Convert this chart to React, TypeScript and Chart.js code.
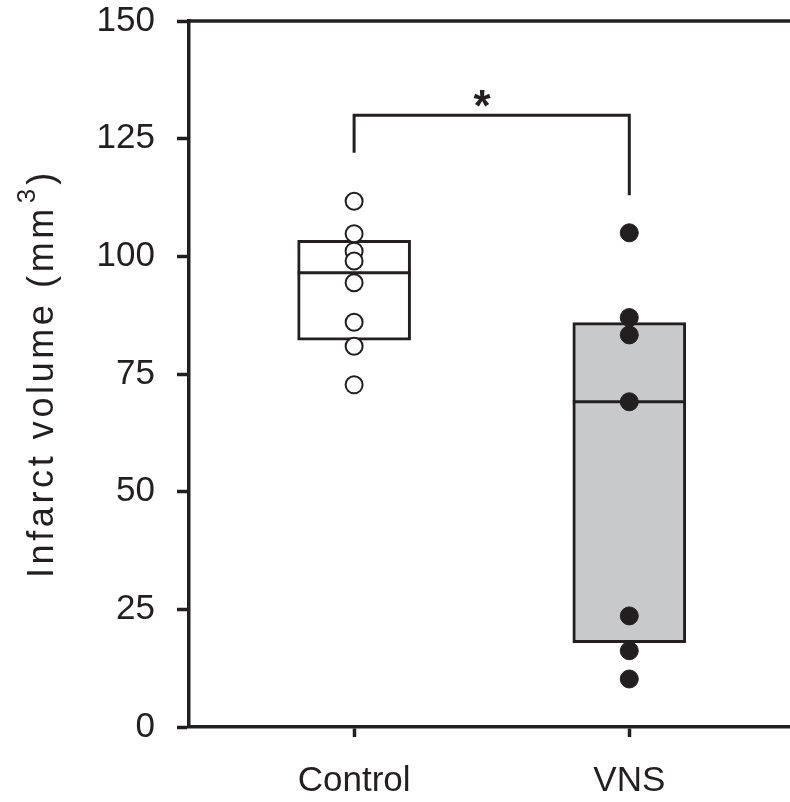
import React, { useEffect, useRef } from "react";
import { Chart, registerables } from "chart.js";

Chart.register(...registerables);

// ---- data ----
const CATEGORIES = ["Control", "VNS"];
const CATEGORY_POS = [1, 2];
const CONTROL_POINTS = [111.7, 104.8, 101.1, 99.0, 94.4, 86.0, 80.9, 72.7];
const VNS_POINTS = [105.0, 87.0, 83.3, 69.1, 23.6, 16.2, 10.2];
// box: [lower quartile, median, upper quartile]
const CONTROL_BOX = [82.2, 96.5, 103.4];
const VNS_BOX = [17.9, 69.1, 85.9];
const Y_TICKS = [0, 25, 50, 75, 100, 125, 150];
// significance bracket: left foot, top, right foot
const BRACKET = [122, 130, 113];
const STAR_POS = [1.465, 134];

const INK = "#231f20";
const GRAY = "#c8c9cb";
const FONT = '"Liberation Sans", Arial, Helvetica, sans-serif';
const BOX_HALF = 0.205;

const titlePlugin = {
  id: "customText",
  afterDraw(chart: any) {
    const ctx = chart.ctx as CanvasRenderingContext2D;
    const xs = chart.scales.x;
    const ys = chart.scales.y;
    ctx.save();
    // top border
    ctx.strokeStyle = INK;
    ctx.lineWidth = 3.5;
    ctx.beginPath();
    ctx.moveTo(chart.chartArea.left, chart.chartArea.top);
    ctx.lineTo(chart.chartArea.right, chart.chartArea.top);
    ctx.stroke();

    // asterisk
    ctx.fillStyle = INK;
    ctx.font = `bold 44px ${FONT}`;
    ctx.textAlign = "center";
    ctx.textBaseline = "alphabetic";
    ctx.fillText("*", xs.getPixelForValue(STAR_POS[0]), ys.getPixelForValue(STAR_POS[1]) + 25);
    ctx.restore();

    // y axis title
    ctx.save();
    ctx.translate(53, 578);
    ctx.rotate(-Math.PI / 2);
    ctx.fillStyle = INK;
    ctx.textAlign = "left";
    ctx.textBaseline = "alphabetic";
    ctx.font = `36px ${FONT}`;
    let x = 0;
    const main = "Infarct volume (mm";
    for (const ch of main) {
      ctx.fillText(ch, x, 0);
      x += ctx.measureText(ch).width + 3.6;
    }
    x += 2;
    ctx.font = `26px ${FONT}`;
    ctx.fillText("3", x, -18);
    x += ctx.measureText("3").width + 4;
    ctx.font = `36px ${FONT}`;
    ctx.fillText(")", x, 0);
    ctx.restore();
  },
};

const zeroPadding = (s: any) => {
  s.paddingTop = 0;
  s.paddingBottom = 0;
  s.paddingLeft = 0;
  s.paddingRight = 0;
};

export default function App() {
  const ref = useRef<HTMLCanvasElement | null>(null);

  useEffect(() => {
    if (!ref.current) return;
    const boxes = [CONTROL_BOX, VNS_BOX];
    const chart = new Chart(ref.current, {
      type: "bar",
      data: {
        datasets: [
          {
            type: "scatter",
            label: "Control",
            data: CONTROL_POINTS.map((v) => ({ x: CATEGORY_POS[0], y: v })),
            pointRadius: 8.5,
            pointBackgroundColor: "#ffffff",
            pointBorderColor: INK,
            pointBorderWidth: 2,
            order: 0,
          } as any,
          {
            type: "scatter",
            label: "VNS",
            data: VNS_POINTS.map((v) => ({ x: CATEGORY_POS[1], y: v })),
            pointRadius: 9,
            pointBackgroundColor: INK,
            pointBorderColor: INK,
            pointBorderWidth: 1,
            order: 0,
          } as any,
          ...boxes.map((b, i) => ({
            type: "line",
            label: "median " + CATEGORIES[i],
            data: [
              { x: CATEGORY_POS[i] - BOX_HALF, y: b[1] },
              { x: CATEGORY_POS[i] + BOX_HALF, y: b[1] },
            ],
            borderColor: INK,
            borderWidth: 3,
            pointRadius: 0,
            order: 1,
          })) as any,
          {
            type: "line",
            label: "bracket",
            data: [
              { x: CATEGORY_POS[0], y: BRACKET[0] },
              { x: CATEGORY_POS[0], y: BRACKET[1] },
              { x: CATEGORY_POS[1], y: BRACKET[1] },
              { x: CATEGORY_POS[1], y: BRACKET[2] },
            ],
            borderColor: INK,
            borderWidth: 3,
            pointRadius: 0,
            tension: 0,
            order: 1,
          } as any,
          {
            type: "bar",
            label: "boxes",
            data: boxes.map((b, i) => ({ x: CATEGORY_POS[i], y: [b[0], b[2]] })),
            backgroundColor: ["#ffffff", GRAY],
            borderColor: INK,
            borderWidth: 3,
            borderSkipped: false,
            barThickness: 113,
            order: 2,
          } as any,
        ],
      },
      options: {
        animation: false,
        responsive: true,
        maintainAspectRatio: false,
        layout: { autoPadding: false, padding: { top: 21, left: 0, right: 0, bottom: 0 } },
        plugins: { legend: { display: false }, tooltip: { enabled: false } },
        scales: {
          x: {
            type: "linear",
            min: 0.4,
            max: 2.584,
            offset: false,
            afterBuildTicks: (s: any) => {
              s.ticks = CATEGORY_POS.map((v) => ({ value: v }));
            },
            afterFit: (s: any) => {
              s.height = 75;
              zeroPadding(s);
            },
            ticks: {
              callback: (v: any) => CATEGORIES[CATEGORY_POS.indexOf(Number(v))] ?? "",
              font: { size: 35, family: FONT },
              color: INK,
              padding: 23,
              maxRotation: 0,
              autoSkip: false,
            },
            grid: {
              drawOnChartArea: false,
              drawTicks: true,
              tickLength: 10,
              tickWidth: 3.5,
              tickColor: INK,
              offset: false,
            },
            border: { display: true, color: INK, width: 3.5 },
          },
          y: {
            type: "linear",
            min: 0,
            max: 150,
            afterBuildTicks: (s: any) => {
              s.ticks = Y_TICKS.map((v) => ({ value: v }));
            },
            afterFit: (s: any) => {
              s.width = 189;
              zeroPadding(s);
            },
            ticks: {
              font: { size: 35, family: FONT },
              color: INK,
              padding: 22,
            },
            grid: {
              drawOnChartArea: false,
              drawTicks: true,
              tickLength: 12,
              tickWidth: 3.5,
              tickColor: INK,
            },
            border: { display: true, color: INK, width: 3.5 },
          },
        },
      } as any,
      plugins: [titlePlugin],
    });
    return () => chart.destroy();
  }, []);

  return (
    <div
      style={{
        position: "fixed",
        left: 0,
        top: 0,
        width: 790,
        height: 802,
        background: "#ffffff",
      }}
    >
      <canvas ref={ref} />
    </div>
  );
}
